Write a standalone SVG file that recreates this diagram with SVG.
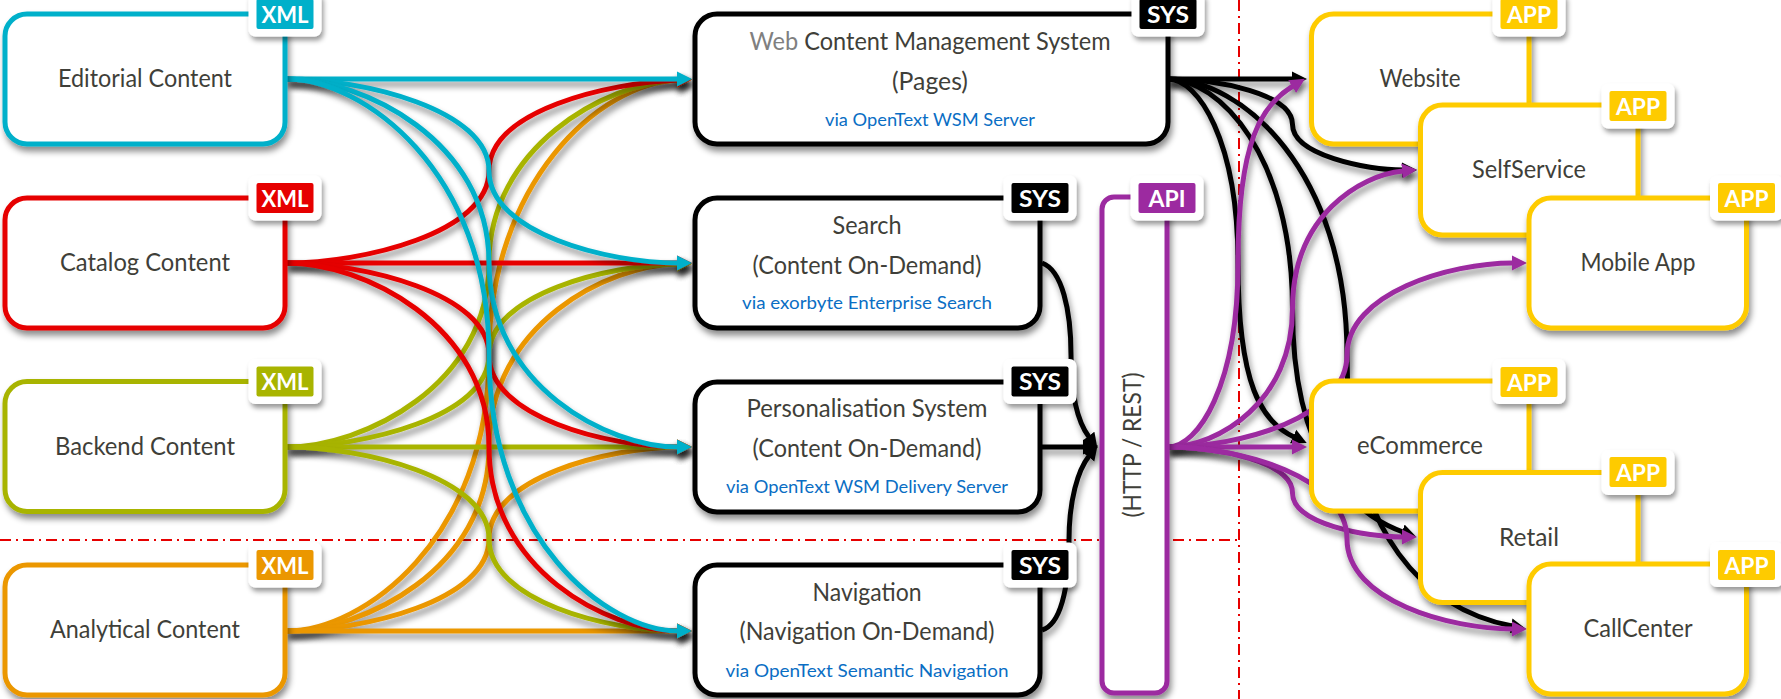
<svg xmlns="http://www.w3.org/2000/svg" width="1781" height="699" viewBox="0 0 1781 699">
<style>
text{font-family:"Lato","Noto Sans","Liberation Sans",sans-serif;fill:#3f3f39;text-anchor:middle;font-size:25px}
.via{font-size:18px;fill:#0a6ec4}
.web{fill:#808080}
.bt{font-size:22px;font-weight:700;fill:#fff}
.box{fill:#fff;stroke-width:5;filter:url(#sh)}
.bo{fill:#fff;filter:url(#sh2)}
.c{fill:none;stroke-width:5;filter:url(#sh)}
.k{stroke:#000}.cy{stroke:#00b0ca}.re{stroke:#e60000}.gr{stroke:#a8b400}.or{stroke:#eb9700}.ye{stroke:#fecb00}.pu{stroke:#9c2aa0}
.fk{fill:#000}.fcy{fill:#00b0ca}.fre{fill:#e60000}.fgr{fill:#a8b400}.for{fill:#eb9700}.fye{fill:#fecb00}.fpu{fill:#9c2aa0}
.mcy{marker-end:url(#acy)}.mre{marker-end:url(#are)}.mgr{marker-end:url(#agr)}.mor{marker-end:url(#aor)}.mk{marker-end:url(#ak)}.mpu{marker-end:url(#apu)}
.guide{fill:none;stroke:#e60000;stroke-width:2;stroke-dasharray:11 5 2 5}
</style>
<defs>
<filter id="sh" filterUnits="userSpaceOnUse" x="-20" y="-20" width="1821" height="740"><feDropShadow dx="2" dy="5" stdDeviation="3" flood-color="#000" flood-opacity="0.45"/></filter>
<filter id="sh2" filterUnits="userSpaceOnUse" x="-20" y="-20" width="1821" height="740"><feDropShadow dx="2" dy="4" stdDeviation="2.5" flood-color="#000" flood-opacity="0.4"/></filter>
<marker id="acy" markerUnits="userSpaceOnUse" markerWidth="16" markerHeight="16" refX="1" refY="8" orient="auto"><path d="M0,0.5L15,8L0,15.5z" fill="#00b0ca"/></marker>
<marker id="are" markerUnits="userSpaceOnUse" markerWidth="16" markerHeight="16" refX="1" refY="8" orient="auto"><path d="M0,0.5L15,8L0,15.5z" fill="#e60000"/></marker>
<marker id="agr" markerUnits="userSpaceOnUse" markerWidth="16" markerHeight="16" refX="1" refY="8" orient="auto"><path d="M0,0.5L15,8L0,15.5z" fill="#a8b400"/></marker>
<marker id="aor" markerUnits="userSpaceOnUse" markerWidth="16" markerHeight="16" refX="1" refY="8" orient="auto"><path d="M0,0.5L15,8L0,15.5z" fill="#eb9700"/></marker>
<marker id="ak" markerUnits="userSpaceOnUse" markerWidth="16" markerHeight="16" refX="1" refY="8" orient="auto"><path d="M0,0.5L15,8L0,15.5z" fill="#000"/></marker>
<marker id="apu" markerUnits="userSpaceOnUse" markerWidth="16" markerHeight="16" refX="1" refY="8" orient="auto"><path d="M0,0.5L15,8L0,15.5z" fill="#9c2aa0"/></marker>
</defs>
<rect width="1781" height="699" fill="#fff"/>
<g id="guides">
<path class="guide" d="M0,540H1238"/>
<path class="guide" d="M1239,0V699"/>
</g>
<g id="connectors">
<path class="c or mor" d="M287,631C362,631 489,540 489,355C489,182 600,83 678,80"/>
<path class="c or mor" d="M287,631C362,631 489,570 489,447C489,324 608,265 678,264"/>
<path class="c or mor" d="M287,631C362,631 489,601 489,539C489,477 608,448 678,447"/>
<path class="c or mor" d="M287,631H678"/>
<path class="c gr mgr" d="M287,447C362,447 489,386 489,263C489,148 604,83 678,80"/>
<path class="c gr mgr" d="M287,447C362,447 489,417 489,355C489,294 608,265 678,264"/>
<path class="c gr mgr" d="M287,447H678"/>
<path class="c gr mgr" d="M287,447C362,447 489,477 489,539C489,601 608,631 678,631"/>
<path class="c re mre" d="M287,263C362,263 489,233 489,171C489,110 608,83 678,80"/>
<path class="c re mre" d="M287,263H678"/>
<path class="c re mre" d="M287,263C362,263 489,293 489,355C489,417 608,447 678,447"/>
<path class="c re mre" d="M287,263C362,263 489,324 489,447C489,570 608,631 678,631"/>
<path class="c cy mcy" d="M287,79H678"/>
<path class="c cy mcy" d="M287,79C362,79 489,109 489,171C489,233 608,263 678,263"/>
<path class="c cy mcy" d="M287,79C362,79 489,140 489,263C489,386 608,447 678,447"/>
<path class="c cy mcy" d="M287,79C362,79 489,170 489,355C489,540 608,631 678,631"/>
<path class="c k mk" d="M1042,263C1062,270 1071,310 1071,355C1071,400 1080,425 1089,437"/>
<path class="c k mk" d="M1042,447H1084"/>
<path class="c k mk" d="M1042,630C1060,625 1069,590 1069,540C1069,500 1078,470 1089,456"/>
<path class="c k mk" d="M1168,79H1293"/>
<path class="c k mk" d="M1168,79C1219,79 1292.500,94 1292.500,124.500C1292.500,155 1366,170 1403,170"/>
<path class="c k mk" d="M1168,79C1198,79 1238,140 1238,263C1238,386 1262,422 1294,437"/>
<path class="c k mk" d="M1168,79C1219,79 1292.500,155 1292.500,309C1292.500,463 1356,515 1403,532"/>
<path class="c k mk" d="M1168,79C1241,79 1347,170 1347,355C1347,540 1430,610 1512,626"/>
<path class="c pu mpu" d="M1168,447C1198,447 1238,386 1238,263C1238,140 1262,105 1293,86"/>
<path class="c pu mpu" d="M1168,447C1219,447 1292.500,401 1292.500,308.500C1292.500,216 1360,175 1403,171"/>
<path class="c pu mpu" d="M1168,447C1241,447 1347,417 1347,355C1347,293 1450,263 1513,263"/>
<path class="c pu mpu" d="M1168,447H1293"/>
<path class="c pu mpu" d="M1168,447C1219,447 1292.500,462 1292.500,493C1292.500,524 1366,537 1403,537"/>
<path class="c pu mpu" d="M1168,447C1241,447 1347,477 1347,539C1347,601 1450,629 1513,629"/>
</g>
<g id="editorial"><rect class="box cy" x="5" y="14" width="280" height="130" rx="22"/><text x="145" y="87" textLength="174" lengthAdjust="spacingAndGlyphs">Editorial Content</text><rect class="bo" x="248.500" y="-8.500" width="73" height="45" rx="7"/><rect class="fcy" x="256.500" y="-1" width="57" height="30" rx="2"/><text class="bt" x="285" y="22.500" textLength="47" lengthAdjust="spacingAndGlyphs">XML</text></g>
<g id="catalog"><rect class="box re" x="5" y="198" width="280" height="130" rx="22"/><text x="145" y="271" textLength="170" lengthAdjust="spacingAndGlyphs">Catalog Content</text><rect class="bo" x="248.500" y="175.500" width="73" height="45" rx="7"/><rect class="fre" x="256.500" y="183" width="57" height="30" rx="2"/><text class="bt" x="285" y="206.500" textLength="47" lengthAdjust="spacingAndGlyphs">XML</text></g>
<g id="backend"><rect class="box gr" x="5" y="381.500" width="280" height="130" rx="22"/><text x="145" y="455" textLength="180" lengthAdjust="spacingAndGlyphs">Backend Content</text><rect class="bo" x="248.500" y="359" width="73" height="45" rx="7"/><rect class="fgr" x="256.500" y="366.500" width="57" height="30" rx="2"/><text class="bt" x="285" y="390" textLength="47" lengthAdjust="spacingAndGlyphs">XML</text></g>
<g id="analytical"><rect class="box or" x="5" y="565" width="280" height="130" rx="22"/><text x="145" y="638" textLength="190" lengthAdjust="spacingAndGlyphs">Analytical Content</text><rect class="bo" x="248.500" y="542.500" width="73" height="45" rx="7"/><rect class="for" x="256.500" y="550" width="57" height="30" rx="2"/><text class="bt" x="285" y="573.500" textLength="47" lengthAdjust="spacingAndGlyphs">XML</text></g>
<g id="wcms"><rect class="box k" x="695" y="14" width="473" height="130" rx="22"/><text x="930" y="50" textLength="361" lengthAdjust="spacingAndGlyphs"><tspan class="web">Web</tspan> Content Management System</text><text x="930" y="90" textLength="76" lengthAdjust="spacingAndGlyphs">(Pages)</text><text class="via" x="930" y="126" textLength="210" lengthAdjust="spacingAndGlyphs">via OpenText WSM Server</text><rect class="bo" x="1131.500" y="-8.500" width="73" height="45" rx="7"/><rect class="fk" x="1139.500" y="-1" width="57" height="30" rx="2"/><text class="bt" x="1168" y="22.500" textLength="42" lengthAdjust="spacingAndGlyphs">SYS</text></g>
<g id="search"><rect class="box k" x="695" y="198" width="345" height="130" rx="22"/><text x="867" y="234" textLength="69" lengthAdjust="spacingAndGlyphs">Search</text><text x="867" y="274" textLength="229" lengthAdjust="spacingAndGlyphs">(Content On-Demand)</text><text class="via" x="867" y="309" textLength="250" lengthAdjust="spacingAndGlyphs">via exorbyte Enterprise Search</text><rect class="bo" x="1003.500" y="175.500" width="73" height="45" rx="7"/><rect class="fk" x="1011.500" y="183" width="57" height="30" rx="2"/><text class="bt" x="1040" y="206.500" textLength="42" lengthAdjust="spacingAndGlyphs">SYS</text></g>
<g id="personalisation"><rect class="box k" x="695" y="382" width="345" height="130" rx="22"/><text x="867" y="417" textLength="241" lengthAdjust="spacingAndGlyphs">Personalisation System</text><text x="867" y="457" textLength="229" lengthAdjust="spacingAndGlyphs">(Content On-Demand)</text><text class="via" x="867" y="493" textLength="282" lengthAdjust="spacingAndGlyphs">via OpenText WSM Delivery Server</text><rect class="bo" x="1003.500" y="359" width="73" height="45" rx="7"/><rect class="fk" x="1011.500" y="366.500" width="57" height="30" rx="2"/><text class="bt" x="1040" y="390" textLength="42" lengthAdjust="spacingAndGlyphs">SYS</text></g>
<g id="navigation"><rect class="box k" x="695" y="565" width="345" height="130" rx="22"/><text x="867" y="601" textLength="109" lengthAdjust="spacingAndGlyphs">Navigation</text><text x="867" y="640" textLength="255" lengthAdjust="spacingAndGlyphs">(Navigation On-Demand)</text><text class="via" x="867" y="677" textLength="283" lengthAdjust="spacingAndGlyphs">via OpenText Semantic Navigation</text><rect class="bo" x="1003.500" y="542.500" width="73" height="45" rx="7"/><rect class="fk" x="1011.500" y="550" width="57" height="30" rx="2"/><text class="bt" x="1040" y="573.500" textLength="42" lengthAdjust="spacingAndGlyphs">SYS</text></g>
<g id="api"><rect class="box pu" x="1102" y="197" width="65" height="496" rx="12"/><text transform="translate(1141,445) rotate(-90)" textLength="145" lengthAdjust="spacingAndGlyphs">(HTTP / REST)</text><rect class="bo" x="1130.500" y="175.500" width="73" height="45" rx="7"/><rect class="fpu" x="1138.500" y="183" width="57" height="30" rx="2"/><text class="bt" x="1167" y="206.500" textLength="37" lengthAdjust="spacingAndGlyphs">API</text></g>
<g id="website"><rect class="box ye" x="1311.500" y="14" width="217.500" height="130" rx="22"/><text x="1420" y="87" textLength="81" lengthAdjust="spacingAndGlyphs">Website</text><rect class="bo" x="1492.500" y="-8.500" width="73" height="45" rx="7"/><rect class="fye" x="1500.500" y="-1" width="57" height="30" rx="2"/><text class="bt" x="1529" y="22.500" textLength="44" lengthAdjust="spacingAndGlyphs">APP</text></g>
<g id="selfservice"><rect class="box ye" x="1420.500" y="105" width="217.500" height="130" rx="22"/><text x="1529" y="178" textLength="114" lengthAdjust="spacingAndGlyphs">SelfService</text><rect class="bo" x="1601.500" y="83.500" width="73" height="45" rx="7"/><rect class="fye" x="1609.500" y="91" width="57" height="30" rx="2"/><text class="bt" x="1638" y="114.500" textLength="44" lengthAdjust="spacingAndGlyphs">APP</text></g>
<g id="mobile"><rect class="box ye" x="1529" y="198" width="217.500" height="130" rx="22"/><text x="1638" y="271" textLength="115" lengthAdjust="spacingAndGlyphs">Mobile App</text><rect class="bo" x="1710" y="175.500" width="73" height="45" rx="7"/><rect class="fye" x="1718" y="183" width="57" height="30" rx="2"/><text class="bt" x="1746.500" y="206.500" textLength="44" lengthAdjust="spacingAndGlyphs">APP</text></g>
<g id="ecommerce"><rect class="box ye" x="1311.500" y="381" width="217.500" height="130" rx="22"/><text x="1420" y="454" textLength="126" lengthAdjust="spacingAndGlyphs">eCommerce</text><rect class="bo" x="1492.500" y="359" width="73" height="45" rx="7"/><rect class="fye" x="1500.500" y="367" width="57" height="30" rx="2"/><text class="bt" x="1529" y="390.500" textLength="44" lengthAdjust="spacingAndGlyphs">APP</text></g>
<g id="retail"><rect class="box ye" x="1420.500" y="472.500" width="217.500" height="130" rx="22"/><text x="1529" y="546" textLength="60" lengthAdjust="spacingAndGlyphs">Retail</text><rect class="bo" x="1601.500" y="450" width="73" height="45" rx="7"/><rect class="fye" x="1609.500" y="457" width="57" height="30" rx="2"/><text class="bt" x="1638" y="480.500" textLength="44" lengthAdjust="spacingAndGlyphs">APP</text></g>
<g id="callcenter"><rect class="box ye" x="1529" y="564" width="217.500" height="130" rx="22"/><text x="1638" y="637" textLength="109" lengthAdjust="spacingAndGlyphs">CallCenter</text><rect class="bo" x="1710" y="542" width="73" height="45" rx="7"/><rect class="fye" x="1718" y="550" width="57" height="30" rx="2"/><text class="bt" x="1746.500" y="573.500" textLength="44" lengthAdjust="spacingAndGlyphs">APP</text></g>
</svg>
